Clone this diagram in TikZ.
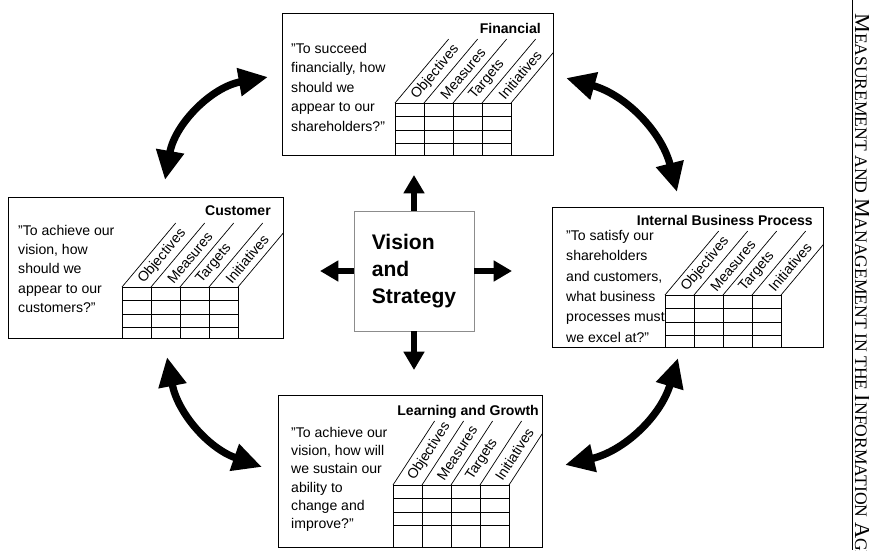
\documentclass[tikz,border=0pt]{standalone}
\usepackage{fontspec}
\setmainfont{Liberation Sans}
\newfontfamily\hdrfont{Liberation Serif}
\usepackage{tikz}
\usetikzlibrary{calc}
\usetikzlibrary{arrows.meta}
\tikzset{>=latex}
\tikzset{card/.style = {rectangle, draw=black, line width=0.7pt, inner sep=0pt}}
\tikzset{visbox/.style = {rectangle, draw=black!45, line width=0.6pt, inner sep=0pt, align=left,
    font=\fontsize{18}{23}\selectfont\bfseries}}
\tikzset{quote/.style = {inner sep=0pt, anchor=north west, align=left}}
\tikzset{cardtitle/.style = {inner sep=0pt, anchor=base east, font=\fontsize{12}{14}\selectfont\bfseries}}
\tikzset{collabel/.style = {inner sep=0pt, font=\fontsize{12}{14}\selectfont}}
\tikzset{gridline/.style = {draw=black, line width=0.6pt}}
\tikzset{visarrow/.style = {->, >={Triangle[length=0.55cm,width=0.6cm]}, line width=0.2cm}}
\tikzset{bigarrow/.style = {<->, >={Triangle[length=0.88cm,width=0.8cm]}, line width=0.22cm}}
\newcommand{\bigc}[1]{{\fontsize{19}{19}\selectfont #1}}

% grid of one card: #1,#2 top left of grid, #3 bottom, #4 card, #5 slant
\newcommand{\bscgrid}[5]{%
  \begin{scope}
    \clip (#4.south west) rectangle (#4.north east);
    \foreach \k in {0,...,4} {
      \draw[gridline] (#1+29*\k,#2) -- (#1+29*\k,#3);
      \draw[gridline] (#1+29*\k,#2) -- ++({64/tan(#5)},-64);
    }
    \foreach \k in {1,...,3}
      \draw[gridline] (#1,#2+13.5*\k) -- (#1+116,#2+13.5*\k);
    \draw[gridline] (#1,#2) -- (#1+116,#2);
  \end{scope}
  \foreach \lab [count=\k from 0] in {Objectives,Measures,Targets,Initiatives}
    \node[collabel, rotate=#5, anchor=west] (#4l\k) at ({#1+29*\k+14.5+7*cos(#5)},{#2-7*sin(#5)}) {\lab};
}

\begin{document}
\begin{tikzpicture}[x=0.03cm, y=-0.03cm]
\useasboundingbox (0,0) rectangle (869,550);

% the four cards
\node [card, minimum width=271*0.03cm, minimum height=142*0.03cm] (fin) at (417.5,84) {};
\node [card, minimum width=275*0.03cm, minimum height=141*0.03cm] (cus) at (145.5,267.5) {};
\node [card, minimum width=271*0.03cm, minimum height=140*0.03cm] (ibp) at (687.5,277) {};
\node [card, minimum width=264*0.03cm, minimum height=152*0.03cm] (lrn) at (410,471) {};

\node [cardtitle] (fint) at (541,33) {Financial};
\node [cardtitle] (cust) at (271,215) {Customer};
\node [cardtitle] (ibpt) at (813,225) {Internal Business Process};
\node [cardtitle] (lrnt) at (539,415) {Learning and Growth};

\node [quote, font=\fontsize{12}{16.6}\selectfont] (finq) at (291,43)
  {"To succeed\\financially, how\\should we\\appear to our\\shareholders?"};
\node [quote, font=\fontsize{12}{16.4}\selectfont] (cusq) at (18,225)
  {"To achieve our\\vision, how\\should we\\appear to our\\customers?"};
\node [quote, font=\fontsize{12}{17.4}\selectfont] (ibpq) at (566,230)
  {"To satisfy our\\shareholders\\and customers,\\what business\\processes must\\we excel at?"};
\node [quote, font=\fontsize{12}{15.6}\selectfont] (lrnq) at (291,427)
  {"To achieve our\\vision, how will\\we sustain our\\ability to\\change and\\improve?"};

\bscgrid{395}{103}{155}{fin}{50}
\bscgrid{122}{287}{338}{cus}{50}
\bscgrid{665}{295}{347}{ibp}{50}
\bscgrid{393}{485}{547}{lrn}{57}

% centre
\node [visbox, minimum width=120*0.03cm, minimum height=120*0.03cm] (vis) at (414,271)
  {\rule{0pt}{6pt}Vision\\and\\Strategy};
\coordinate (vup) at (414,175);
\coordinate (vdn) at (414,370);
\coordinate (vlf) at (320,271);
\coordinate (vrt) at (512,271);
\draw [visarrow] (vis.north) -- (vup);
\draw [visarrow] (vis.south) -- (vdn);
\draw [visarrow] (vis.west) -- (vlf);
\draw [visarrow] (vis.east) -- (vrt);

% links between the cards
\coordinate (cf1) at (165,180);
\coordinate (cf2) at (268,77);
\coordinate (fi1) at (566,78);
\coordinate (fi2) at (677,192);
\coordinate (il1) at (678,358);
\coordinate (il2) at (565,465);
\coordinate (lc1) at (262,467);
\coordinate (lc2) at (167,357);
\draw [bigarrow] (cf1) to [bend left=35] (cf2);
\draw [bigarrow] (fi1) to [bend left=30] (fi2);
\draw [bigarrow] (il1) to [bend left=30] (il2);
\draw [bigarrow] (lc1) to [bend left=30] (lc2);

% page margin
\draw [line width=0.6pt] (852,0) -- (852,550);
\node [inner sep=0pt, rotate=-90, anchor=base west, font=\hdrfont\fontsize{15}{15}\selectfont] (hdr) at (855,13)
  {\bigc{M}EASUREMENT AND \bigc{M}ANAGEMENT IN THE \bigc{I}NFORMATION \bigc{A}GE};
\end{tikzpicture}
\end{document}
